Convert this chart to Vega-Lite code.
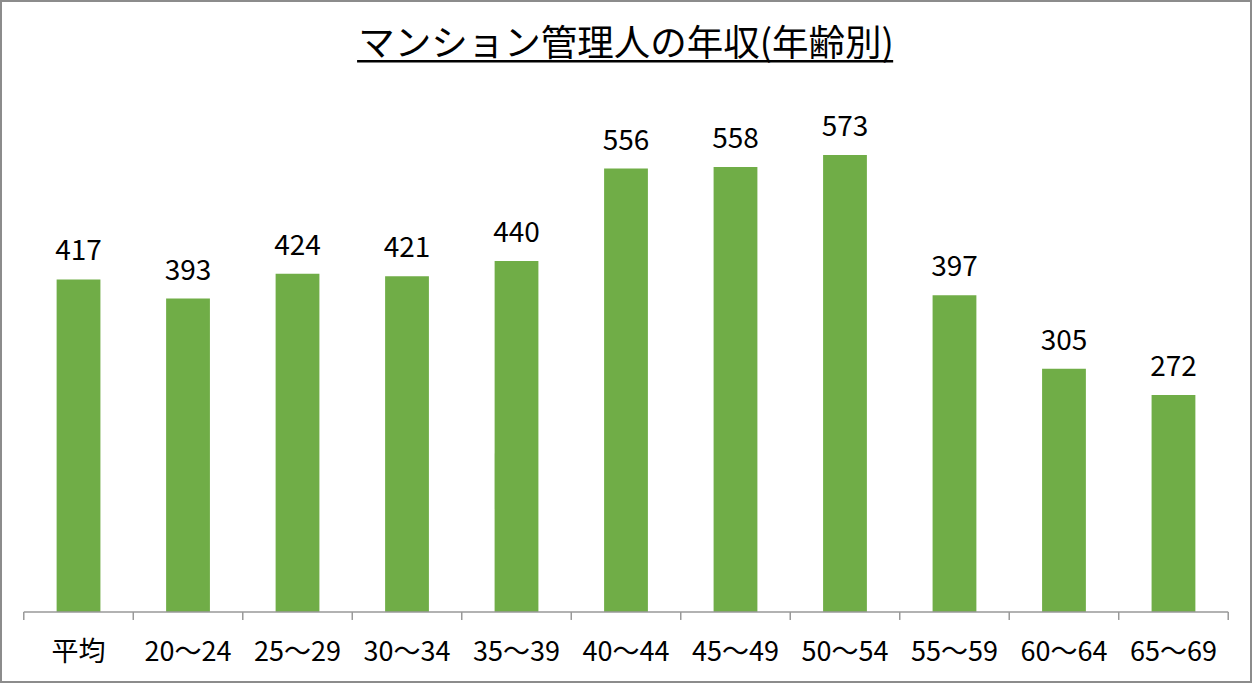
{
  "$schema": "https://vega.github.io/schema/vega-lite/v6.json",
  "width": 1250,
  "height": 681,
  "padding": 1,
  "autosize": {"type": "none"},
  "background": "#FFFFFF",
  "data": {
    "values": [
      {"age": "平均", "income": 417},
      {"age": "20〜24", "income": 393},
      {"age": "25〜29", "income": 424},
      {"age": "30〜34", "income": 421},
      {"age": "35〜39", "income": 440},
      {"age": "40〜44", "income": 556},
      {"age": "45〜49", "income": 558},
      {"age": "50〜54", "income": 573},
      {"age": "55〜59", "income": 397},
      {"age": "60〜64", "income": 305},
      {"age": "65〜69", "income": 272}
    ]
  },
  "encoding": {
    "x": {
      "field": "age",
      "type": "nominal",
      "sort": null,
      "scale": {"paddingInner": 0.6, "paddingOuter": 0.508},
      "axis": {
        "title": null,
        "domain": false,
        "ticks": false,
        "offset": -70,
        "labelAngle": 0,
        "labelFont": "Noto Sans CJK JP",
        "labelFontSize": 27,
        "labelColor": "#000000",
        "labelPadding": 27
      }
    }
  },
  "layer": [
    {
      "mark": {"type": "bar", "color": "#70AD47"},
      "encoding": {
        "y": {
          "field": "income",
          "type": "quantitative",
          "scale": {"domain": [-87.8, 766.1], "nice": false, "zero": false},
          "axis": null
        }
      }
    },
    {
      "mark": {"type": "text", "baseline": "alphabetic", "dy": -19, "font": "Noto Sans CJK JP", "fontSize": 28, "color": "#000000"},
      "encoding": {
        "y": {"field": "income", "type": "quantitative"},
        "text": {"field": "income", "type": "quantitative"}
      }
    },
    {
      "mark": {"type": "rule", "color": "#999999", "strokeWidth": 1.5},
      "encoding": {
        "x": {"field": "age", "type": "nominal", "sort": null, "bandPosition": -0.75},
        "y": {"datum": 0},
        "y2": {"datum": -10}
      }
    },
    {
      "data": {"values": [{}]},
      "mark": {"type": "rule", "color": "#999999", "strokeWidth": 1.5},
      "encoding": {
        "x": {"datum": "65〜69", "bandPosition": 1.75},
        "y": {"datum": 0},
        "y2": {"datum": -10}
      }
    },
    {
      "data": {"values": [{}]},
      "mark": {"type": "rule", "color": "#999999", "strokeWidth": 1.5},
      "encoding": {
        "x": {"datum": "平均", "bandPosition": -0.75},
        "x2": {"datum": "65〜69", "bandPosition": 1.75},
        "y": {"datum": 0}
      }
    },
    {
      "data": {"values": [{"title": "マンション管理人の年収(年齢別)"}]},
      "mark": {"type": "text", "font": "Noto Sans CJK JP", "fontSize": 36.5, "baseline": "middle", "color": "#000000"},
      "encoding": {
        "x": {"datum": "40〜44", "bandPosition": 0.5},
        "y": {"datum": 711.5},
        "text": {"field": "title"}
      }
    },
    {
      "data": {"values": [{}]},
      "mark": {"type": "rule", "color": "#000000", "strokeWidth": 2.5},
      "encoding": {
        "x": {"datum": "30〜34", "bandPosition": -0.64},
        "x2": {"datum": "50〜54", "bandPosition": 1.6},
        "y": {"datum": 690.4}
      }
    }
  ],
  "config": {
    "view": {"stroke": "#8C8C8C", "strokeWidth": 2},
    "axis": {"grid": false}
  }
}
